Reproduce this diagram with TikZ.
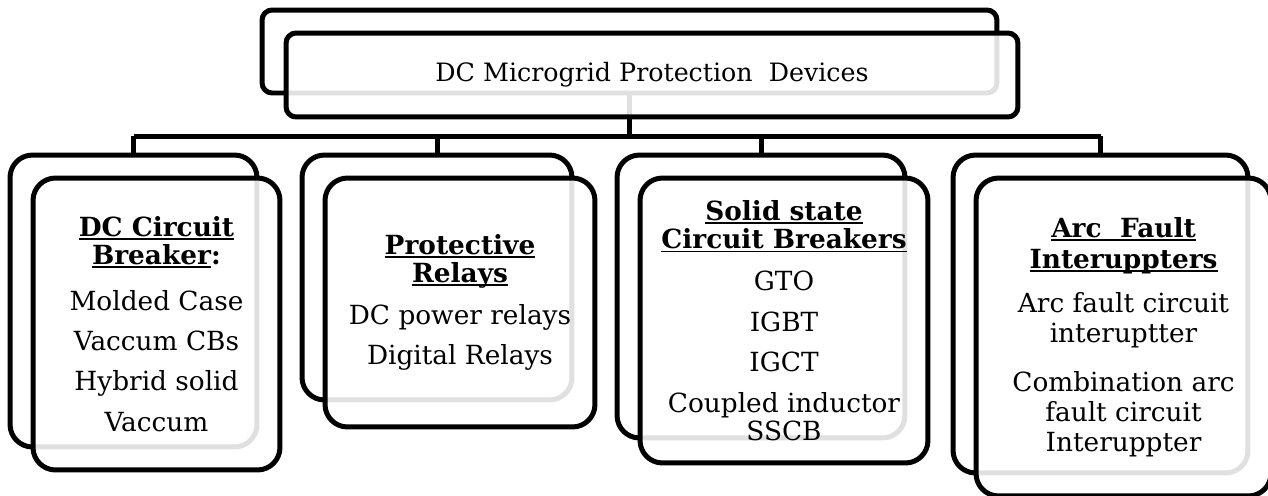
\documentclass[tikz,border=0pt]{standalone}
\usepackage{fontspec}
\setmainfont{DejaVu Serif}
\usetikzlibrary{scopes,positioning}

% underlined bold heading
\newcommand{\hd}[1]{\setbox0\hbox{\textbf{#1}}\rlap{\rule[-2pt]{\wd0}{0.9pt}}\box0}

\begin{document}
\begin{tikzpicture}[
    x=0.02cm, y=-0.02cm,
    back/.style={rectangle,draw=black,fill=white,line width=0.1cm,rounded corners=0.45cm,inner sep=0pt},
    front/.style={back,fill opacity=0.88,text opacity=1,align=center,font=\fontsize{15}{16}\selectfont},
    head/.style={rounded corners=0.2cm,font=\fontsize{14.4}{16}\selectfont},
    box/.style 2 args={minimum width=#1,minimum height=#2},
    link/.style={draw=black,line width=0.1cm},
]

    \useasboundingbox (0,0) rectangle (1268,495);

    %%%

    % back boxes
    \node[back,head,box={14.7cm}{1.66cm}] (topb) at (629.5,51.5) {};
    \node[back,box={4.94cm}{5.84cm}] (b1) at (133.5,301) {};
    \node[back,box={5.4cm}{4.9cm}] (b2) at (437,277.5) {};
    \node[back,box={5.76cm}{5.66cm}] (b3) at (761,296.5) {};
    \node[back,box={5.9cm}{6.36cm}] (b4) at (1100.5,314) {};

    % tree lines
    \coordinate (bus) at (629.5,136);
    {[link]
        \draw (topb.south) -- (bus);
        \draw (b1.north |- bus) -- (b4.north |- bus);
        \foreach \b in {b1,b2,b3,b4}
            \draw (\b.north |- bus) -- (\b.north);
    }

    % front boxes
    \node[front,head,box={14.64cm}{1.68cm},below right=0.46cm and 0.48cm of topb.north west] (top)
        {DC Microgrid Protection\ \ Devices};
    \node[front,box={4.94cm}{5.84cm},below right=0.46cm and 0.46cm of b1.north west] (f1)
        {\hd{DC Circuit}\\ \hd{Breaker}\textbf{:}\\[10pt]
         Molded Case\\[7pt] Vaccum CBs\\[7pt] Hybrid solid\\[7pt] Vaccum};
    \node[front,box={5.4cm}{4.98cm},below right=0.46cm and 0.46cm of b2.north west] (f2)
        {\hd{Protective}\\ \hd{Relays}\\[8pt]
         DC power relays\\[7pt] Digital Relays};
    \node[front,box={5.76cm}{5.7cm},below right=0.46cm and 0.46cm of b3.north west] (f3)
        {\hd{Solid state}\\ \hd{Circuit Breakers}\\[8pt]
         GTO\\[7pt] IGBT\\[7pt] IGCT\\[7pt] Coupled inductor\\ SSCB};
    \node[front,box={5.9cm}{6.36cm},below right=0.46cm and 0.46cm of b4.north west] (f4)
        {\hd{Arc\ \ Fault}\\[1.5pt] \hd{Interuppters}\\[9pt]
         Arc fault circuit\\[1pt] interuptter\\[12pt]
         Combination arc\\[1pt] fault circuit\\[1pt] Interuppter};

\end{tikzpicture}
\end{document}
